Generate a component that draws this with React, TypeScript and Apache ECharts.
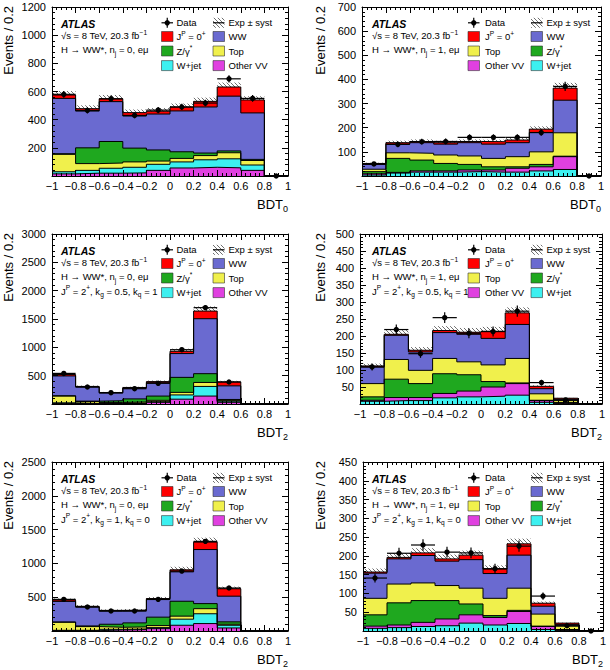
import React, { useEffect, useRef } from "react";
import * as echarts from "echarts";

// ---------------- DATA ----------------
const binEdges = [-1, -0.8, -0.6, -0.4, -0.2, 0, 0.2, 0.4, 0.6, 0.8, 1];

// Panel 1: BDT0, n_j = 0
const p1OtherVV = [15, 20, 20, 22, 40, 57, 62, 58, 40, 0];
const p1Wjet = [15, 20, 35, 40, 43, 43, 53, 64, 38, 0];
const p1Top = [124, 48, 37, 38, 23, 25, 30, 43, 32, 0];
const p1Zgamma = [4, 112, 153, 98, 79, 47, 18, 13, 8, 0];
const p1WW = [393, 261, 283, 228, 255, 290, 327, 389, 330, 0];
const p1Signal = [24, 17, 20, 24, 20, 28, 40, 65, 92, 0];
const p1Data = [580, 466, 548, 430, 468, 490, 518, 690, 551, 0];

// Panel 2: BDT0, n_j = 1
const p2Wjet = [4, 12, 16, 16, 18, 16, 16, 21, 27, 0];
const p2OtherVV = [5, 3, 5, 5, 7, 9, 16, 17, 53, 0];
const p2Zgamma = [9, 58, 45, 31, 23, 13, 6, 10, 2, 0];
const p2Top = [10, 23, 28, 35, 35, 35, 42, 52, 97, 0];
const p2WW = [20, 36, 44, 45, 55, 59, 58, 80, 135, 0];
const p2Signal = [4, 6, 5, 6, 5, 10, 11, 14, 50, 0];
const p2Data = [50, 131, 142, 143, 160, 160, 160, 180, 371, 0];

// Panel 3: BDT2, n_j = 0, kg = 0.5, kq = 1
const p3OtherVV = [10, 5, 8, 10, 30, 85, 140, 30, 0, 0];
const p3Wjet = [10, 5, 5, 5, 10, 75, 170, 20, 0, 0];
const p3Top = [120, 35, 15, 20, 25, 45, 70, 15, 0, 0];
const p3Zgamma = [5, 5, 30, 55, 75, 265, 155, 15, 0, 0];
const p3WW = [350, 250, 135, 190, 235, 420, 970, 240, 0, 0];
const p3Signal = [25, 10, 10, 12, 20, 40, 135, 70, 0, 0];
const p3Data = [540, 300, 200, 270, 365, 958, 1700, 388, null, null];

// Panel 4: BDT2, n_j = 1, kg = 0.5, kq = 1
const p4Wjet = [8, 10, 10, 18, 21, 23, 26, 5, 1, 0];
const p4OtherVV = [3, 9, 9, 13, 17, 27, 34, 5, 2, 0];
const p4Zgamma = [10, 54, 41, 58, 48, 16, 2, 1, 1, 0];
const p4Top = [39, 58, 39, 45, 38, 49, 72, 19, 6, 0];
const p4WW = [49, 71, 54, 76, 81, 78, 100, 15, 4, 0];
const p4Signal = [3, 3, 5, 6, 6, 21, 34, 7, 3, 0];
const p4Data = [109, 219, 148, 254, 208, 213, 273, 63, 12, null];

// Panel 5: BDT2, n_j = 0, kg = 1, kq = 0
const p5OtherVV = [5, 5, 15, 20, 35, 85, 110, 45, 0, 0];
const p5Wjet = [5, 5, 10, 10, 15, 90, 145, 40, 0, 0];
const p5Top = [120, 55, 30, 30, 30, 45, 75, 15, 0, 0];
const p5Zgamma = [3, 10, 45, 60, 125, 220, 75, 35, 0, 0];
const p5WW = [305, 280, 195, 180, 260, 435, 800, 380, 0, 0];
const p5Signal = [20, 10, 10, 10, 15, 30, 110, 110, 0, 0];
const p5Data = [468, 355, 296, 296, 468, 887, 1326, 636, null, null];

// Panel 6: BDT2, n_j = 1, kg = 1, kq = 0
const p6Wjet = [7, 9, 12, 14, 21, 16, 20, 4, 1, 0];
const p6OtherVV = [6, 7, 11, 18, 22, 20, 32, 8, 2, 0];
const p6Zgamma = [30, 59, 58, 49, 29, 5, 3, 1, 1, 0];
const p6Top = [44, 50, 47, 40, 42, 46, 59, 32, 9, 0];
const p6WW = [67, 67, 73, 65, 76, 66, 88, 21, 4, 0];
const p6Signal = [3, 4, 7, 6, 12, 12, 30, 8, 4, 0];
const p6Data = [141, 207, 229, 210, 208, 166, 226, 93, 14, 0];

// relative systematic uncertainty of the expectation
const systFraction = [0.05, 0.06, 0.05, 0.06, 0.05, 0.06];
const yMaxes = [1200, 700, 3000, 500, 2500, 450];
const yIntervals = [200, 100, 500, 50, 500, 50];
const bdtIndex = ["0", "0", "2", "2", "2", "2"];
const njValues = ["0", "1", "0", "1", "0", "1"];
const spinLines = [null, null, ["0.5", "1"], ["0.5", "1"], ["1", "0"], ["1", "0"]];

// ---------------- STYLE ----------------
const FONT = '"Liberation Sans", Arial, Helvetica, sans-serif';
const COL = {
  signal: "#ff0000",
  WW: "#6a6ad0",
  Z: "#1fa81f",
  Top: "#f0f04c",
  Wjet: "#3cf0f0",
  VV: "#e040e0",
};
const LABELS = {
  signal: "{n|J}{sup|P}{n| = 0}{sup|+}",
  WW: "{n|WW}",
  Z: "{n|Z/γ}{sup|*}",
  Top: "{n|Top}",
  Wjet: "{n|W+jet}",
  VV: "{n|Other VV}",
};

const LAYOUT = [
  { left: 52, top: 7, width: 236, height: 169, col: 0 },
  { left: 362, top: 7, width: 239, height: 169, col: 1 },
  { left: 52, top: 234, width: 236, height: 170, col: 0 },
  { left: 360, top: 234, width: 242, height: 170, col: 1 },
  { left: 52, top: 462, width: 236, height: 169, col: 0 },
  { left: 363, top: 462, width: 240, height: 169, col: 1 },
];
const COLX = [
  { yTitle: 8.7, annot: 61, sw1: 161.5, tx1: 176.5, sw2: 213, tx2: 228.5 },
  { yTitle: 320.5, annot: 372, sw1: 468, tx1: 485, sw2: 531, tx2: 546.5 },
];
const ANNOT_ROWS = [17, 28.5, 42.5, 57];
const LEG_ROWS = [15.8, 29.5, 44, 58.6];

const RICH: any = {
  n: { fontSize: 9.5, fontFamily: FONT, fill: "#000", color: "#000" },
  sup: { fontSize: 6.6, fontFamily: FONT, fill: "#000", color: "#000", verticalAlign: "top", height: 6 },
  sub: { fontSize: 6.6, fontFamily: FONT, fill: "#000", color: "#000", verticalAlign: "bottom", height: 6 },
  b: { fontSize: 13, fontFamily: FONT, fill: "#000", color: "#000" },
  bsub: { fontSize: 9, fontFamily: FONT, fill: "#000", color: "#000", verticalAlign: "bottom", height: 7 },
};

function makeHatch(): string {
  const s = 4;
  const c = document.createElement("canvas");
  c.width = s;
  c.height = s;
  const ctx = c.getContext("2d");
  if (ctx) {
    ctx.strokeStyle = "#6e6e6e";
    ctx.lineWidth = 1;
    ctx.beginPath();
    ctx.moveTo(0, 0);
    ctx.lineTo(s, s);
    ctx.moveTo(-1, s - 1);
    ctx.lineTo(1, s + 1);
    ctx.moveTo(s - 1, -1);
    ctx.lineTo(s + 1, 1);
    ctx.stroke();
  }
  return c.toDataURL();
}

function buildOption() {
  const hatch: any = { image: makeHatch(), repeat: "repeat", imageWidth: 4, imageHeight: 4 };

  const panels = [
    { comps: [["VV", p1OtherVV], ["Wjet", p1Wjet], ["Top", p1Top], ["Z", p1Zgamma], ["WW", p1WW], ["signal", p1Signal]], data: p1Data },
    { comps: [["Wjet", p2Wjet], ["VV", p2OtherVV], ["Z", p2Zgamma], ["Top", p2Top], ["WW", p2WW], ["signal", p2Signal]], data: p2Data },
    { comps: [["VV", p3OtherVV], ["Wjet", p3Wjet], ["Top", p3Top], ["Z", p3Zgamma], ["WW", p3WW], ["signal", p3Signal]], data: p3Data },
    { comps: [["Wjet", p4Wjet], ["VV", p4OtherVV], ["Z", p4Zgamma], ["Top", p4Top], ["WW", p4WW], ["signal", p4Signal]], data: p4Data },
    { comps: [["VV", p5OtherVV], ["Wjet", p5Wjet], ["Top", p5Top], ["Z", p5Zgamma], ["WW", p5WW], ["signal", p5Signal]], data: p5Data },
    { comps: [["Wjet", p6Wjet], ["VV", p6OtherVV], ["Z", p6Zgamma], ["Top", p6Top], ["WW", p6WW], ["signal", p6Signal]], data: p6Data },
  ] as { comps: [string, number[]][]; data: (number | null)[] }[];

  const grids: any[] = [];
  const xAxes: any[] = [];
  const yAxes: any[] = [];
  const series: any[] = [];
  const graphics: any[] = [];

  const line = { color: "#000", width: 1 };
  const xFmt = (v: number) => String(+v.toFixed(1)).replace("-", "−");
  const yFmt = (v: number) => (v === 0 ? "" : String(v));

  panels.forEach((p, pi) => {
    const L = LAYOUT[pi];
    const CX = COLX[L.col];
    grids.push({ left: L.left, top: L.top, width: L.width, height: L.height, containLabel: false });

    const xBase = {
      gridIndex: pi, type: "value", min: -1, max: 1, interval: 0.2, z: 10,
      axisLine: { show: true, onZero: false, lineStyle: line },
      axisTick: { show: true, inside: true, length: 6, lineStyle: line },
      minorTick: { show: true, splitNumber: 5, length: 3, lineStyle: line },
      splitLine: { show: false }, minorSplitLine: { show: false },
    };
    xAxes.push({ ...xBase, position: "bottom",
      axisLabel: { show: true, margin: 4, fontSize: 11, fontFamily: FONT, color: "#000", formatter: xFmt } });
    xAxes.push({ ...xBase, position: "top", axisLabel: { show: false } });

    const yBase = {
      gridIndex: pi, type: "value", min: 0, max: yMaxes[pi], interval: yIntervals[pi], z: 10,
      axisLine: { show: true, onZero: false, lineStyle: line },
      axisTick: { show: true, inside: true, length: 6, lineStyle: line },
      minorTick: { show: true, splitNumber: 5, length: 3, lineStyle: line },
      splitLine: { show: false }, minorSplitLine: { show: false },
    };
    yAxes.push({ ...yBase, position: "left",
      axisLabel: { show: true, margin: 6, fontSize: 11, fontFamily: FONT, color: "#000", formatter: yFmt } });
    yAxes.push({ ...yBase, position: "right", axisLabel: { show: false } });

    // cumulative stack
    const cums: number[][] = [];
    let run = new Array(10).fill(0);
    p.comps.forEach(([, vals]) => {
      run = run.map((r: number, i: number) => r + vals[i]);
      cums.push(run);
    });
    for (let k = p.comps.length - 1; k >= 0; k--) {
      const cum = cums[k];
      const color = (COL as any)[p.comps[k][0]];
      series.push({
        type: "line", xAxisIndex: 2 * pi, yAxisIndex: 2 * pi, step: "end", symbol: "none",
        showSymbol: false, silent: true, animation: false,
        data: [...binEdges.slice(0, 10).map((x, i) => [x, cum[i]]), [1, cum[9]]],
        lineStyle: { color: "#000", width: 1 },
        areaStyle: { color, opacity: 1 },
        itemStyle: { color },
        emphasis: { disabled: true },
      });
    }
    const total = cums[cums.length - 1];
    const f = systFraction[pi];
    series.push({
      type: "custom", coordinateSystem: "cartesian2d", xAxisIndex: 2 * pi, yAxisIndex: 2 * pi,
      silent: true, animation: false,
      data: total
        .map((t, i) => [binEdges[i], binEdges[i + 1], t * (1 - f), t * (1 + f)])
        .filter((d) => d[3] > 0),
      renderItem: (params: any, api: any) => {
        const a = api.coord([api.value(0), api.value(3)]);
        const b = api.coord([api.value(1), api.value(2)]);
        return {
          type: "rect",
          shape: { x: a[0], y: a[1], width: b[0] - a[0], height: b[1] - a[1] },
          style: { fill: hatch, stroke: null },
        };
      },
    });
    series.push({
      type: "custom", coordinateSystem: "cartesian2d", xAxisIndex: 2 * pi, yAxisIndex: 2 * pi,
      silent: true, animation: false, z: 5,
      data: p.data
        .map((v, i) => (v == null ? null : [(binEdges[i] + binEdges[i + 1]) / 2, v, Math.sqrt(v)]))
        .filter((d) => d != null),
      renderItem: (params: any, api: any) => {
        const x = api.value(0), y = api.value(1), e = api.value(2);
        const c = api.coord([x, y]);
        const t = api.coord([x, y + e]);
        const b = api.coord([x, Math.max(0, y - e)]);
        const l = api.coord([x - 0.1, y]);
        const r = api.coord([x + 0.1, y]);
        return {
          type: "group",
          children: [
            { type: "line", shape: { x1: c[0], y1: t[1], x2: c[0], y2: b[1] }, style: { stroke: "#000", lineWidth: 1.2 } },
            { type: "line", shape: { x1: l[0], y1: c[1], x2: r[0], y2: c[1] }, style: { stroke: "#000", lineWidth: 1.2 } },
            { type: "circle", shape: { cx: c[0], cy: c[1], r: 2.7 }, style: { fill: "#000" } },
          ],
        };
      },
    });

    // ---------- texts ----------
    const txt = (x: number, y: number, text: string, align = "left", extra: any = {}) => ({
      type: "text", x, y, z: 100, silent: true,
      style: {
        text, rich: RICH, fontSize: 9.5, fontFamily: FONT, fill: "#000", lineHeight: 13,
        align, textAlign: align, verticalAlign: "middle", textVerticalAlign: "middle", ...extra,
      },
    });
    graphics.push({
      type: "text", x: CX.yTitle, y: L.top - 1, rotation: Math.PI / 2, z: 100, silent: true,
      style: { text: "Events / 0.2", fontSize: 13, fontFamily: FONT, fill: "#000",
        align: "right", textAlign: "right", verticalAlign: "middle", textVerticalAlign: "middle" },
    });
    graphics.push(txt(L.left + L.width, L.top + L.height + 28, `{b|BDT}{bsub|${bdtIndex[pi]}}`, "right", { lineHeight: 17 }));
    graphics.push({
      type: "text", x: CX.annot, y: L.top + ANNOT_ROWS[0], z: 100, silent: true,
      style: { text: "ATLAS", fontSize: 10.5, fontWeight: "bold", fontStyle: "italic", fontFamily: FONT, fill: "#000",
        align: "left", textAlign: "left", verticalAlign: "middle", textVerticalAlign: "middle" },
    });
    graphics.push(txt(CX.annot, L.top + ANNOT_ROWS[1], "{n|√s = 8 TeV, 20.3 fb}{sup|−1}"));
    graphics.push(txt(CX.annot, L.top + ANNOT_ROWS[2], `{n|H → WW*, n}{sub|j}{n| = ${njValues[pi]}, eμ}`));
    const sp = spinLines[pi];
    if (sp) {
      graphics.push(txt(CX.annot, L.top + ANNOT_ROWS[3],
        `{n|J}{sup|P}{n| = 2}{sup|+}{n|, k}{sub|g}{n| = ${sp[0]}, k}{sub|q}{n| = ${sp[1]}}`));
    }

    // ---------- legend ----------
    const nj1 = L.col === 1;
    const col1 = ["data", "signal", nj1 ? "Top" : "Z", nj1 ? "VV" : "Wjet"];
    const col2 = ["syst", "WW", nj1 ? "Z" : "Top", nj1 ? "Wjet" : "VV"];
    const addEntry = (key: string, sx: number, tx: number, row: number) => {
      const y = L.top + LEG_ROWS[row];
      const w = 11.5, h = 10;
      if (key === "data") {
        const cx = sx + w / 2;
        graphics.push({ type: "line", z: 100, silent: true, shape: { x1: sx, y1: y, x2: sx + w, y2: y }, style: { stroke: "#000", lineWidth: 1.2 } });
        graphics.push({ type: "line", z: 100, silent: true, shape: { x1: cx, y1: y - 5, x2: cx, y2: y + 5 }, style: { stroke: "#000", lineWidth: 1.2 } });
        graphics.push({ type: "circle", z: 100, silent: true, shape: { cx, cy: y, r: 2.7 }, style: { fill: "#000" } });
        graphics.push(txt(tx, y, "{n|Data}"));
      } else if (key === "syst") {
        graphics.push({ type: "rect", z: 100, silent: true, shape: { x: sx, y: y - h / 2, width: w, height: h }, style: { fill: hatch } });
        graphics.push({ type: "line", z: 100, silent: true, shape: { x1: sx, y1: y, x2: sx + w, y2: y }, style: { stroke: "#000", lineWidth: 1.2 } });
        graphics.push(txt(tx, y, "{n|Exp ± syst}"));
      } else {
        graphics.push({ type: "rect", z: 100, silent: true, shape: { x: sx, y: y - h / 2, width: w, height: h },
          style: { fill: (COL as any)[key], stroke: "#333", lineWidth: 0.6 } });
        graphics.push(txt(tx, y, (LABELS as any)[key]));
      }
    };
    col1.forEach((k, r) => addEntry(k, CX.sw1, CX.tx1, r));
    col2.forEach((k, r) => addEntry(k, CX.sw2, CX.tx2, r));
  });

  return {
    animation: false,
    backgroundColor: "#fff",
    grid: grids,
    xAxis: xAxes,
    yAxis: yAxes,
    series,
    graphic: { elements: graphics },
  };
}

export default function App() {
  const ref = useRef<HTMLDivElement>(null);
  useEffect(() => {
    if (!ref.current) return;
    const chart = echarts.init(ref.current, null, { renderer: "svg" });
    chart.setOption(buildOption() as any);
    return () => chart.dispose();
  }, []);
  return (
    <div
      ref={ref}
      style={{ position: "absolute", left: 0, top: 0, width: 610, height: 670, background: "#fff" }}
    />
  );
}
